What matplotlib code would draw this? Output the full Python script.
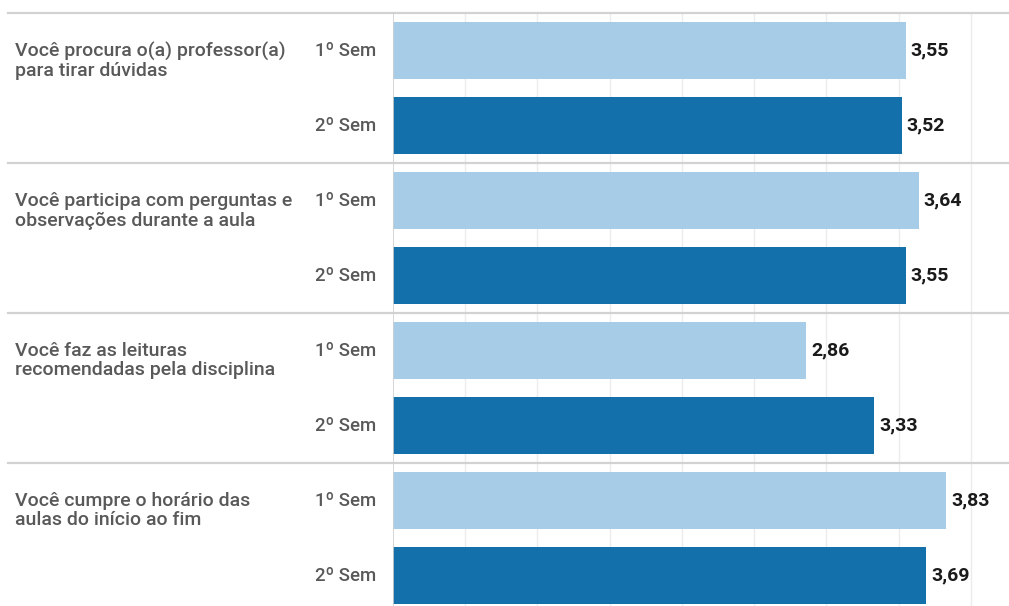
import matplotlib.pyplot as plt
import numpy as np

plt.rcParams['font.family'] = ['Roboto', 'DejaVu Sans']

# Survey questions and mean scores per semester
questions = [
    'Você procura o(a) professor(a)\npara tirar dúvidas',
    'Você participa com perguntas e\nobservações durante a aula',
    'Você faz as leituras\nrecomendadas pela disciplina',
    'Você cumpre o horário das\naulas do início ao fim',
]
series = ['1º Sem', '2º Sem']
sem1 = [3.55, 3.64, 2.86, 3.83]
sem2 = [3.52, 3.55, 3.33, 3.69]

light_blue = '#a6cce8'
dark_blue = '#1370aa'
text_grey = '#595959'

fig = plt.figure(figsize=(10.09, 6.06), dpi=100)
left = 393 / 1009
ax = fig.add_axes([left, 0, 1 - left, 1])

n = len(questions)
groups = np.arange(n)
bar_h = 0.375

b1 = ax.barh(groups + 0.25, sem1, height=bar_h, color=light_blue, zorder=3)
b2 = ax.barh(groups + 0.75, sem2, height=bar_h, color=dark_blue, zorder=3)

ax.set_xlim(0, 4.263)
ax.set_ylim(3.953, -0.087)

# faint vertical grid every 0.5 and the zero line
for gx in np.arange(0.5, 4.01, 0.5):
    ax.plot([gx, gx], [0, 4], color='#ececec', lw=1, zorder=1, clip_on=True)
ax.plot([0, 0], [0, 4], color='#cfcfcf', lw=1.2, zorder=4)

# horizontal separators between questions, reaching into the label area
x0 = (8 - 393) / (1009 - 393)
for gy in range(n):
    ax.axhline(gy, xmin=x0, xmax=1, color='#d2d2d2', lw=1.6, clip_on=False, zorder=2)

for bars in (b1, b2):
    for rect in bars:
        w = rect.get_width()
        ax.annotate(f'{w:.2f}'.replace('.', ','),
                    xy=(w, rect.get_y() + rect.get_height() / 2),
                    xytext=(3.5, 0), textcoords='offset points',
                    ha='left', va='center', fontsize=14,
                    fontweight='bold', color='#1a1a1a')

for i, q in enumerate(questions):
    ax.text(-(393 - 15) / 144.5, i + 0.318, q, ha='left', va='center',
            fontsize=14, fontweight='medium', color=text_grey,
            linespacing=1.1, clip_on=False)
    for j, s in enumerate(series):
        ax.text(-(393 - 315) / 144.5, i + 0.25 + 0.5 * j, s, ha='left',
                va='center', fontsize=13.4, fontweight='medium',
                color=text_grey, clip_on=False)

for sp in ax.spines.values():
    sp.set_visible(False)
ax.set_xticks([])
ax.set_yticks([])

fig.savefig('out.png', dpi=100, facecolor='white')
